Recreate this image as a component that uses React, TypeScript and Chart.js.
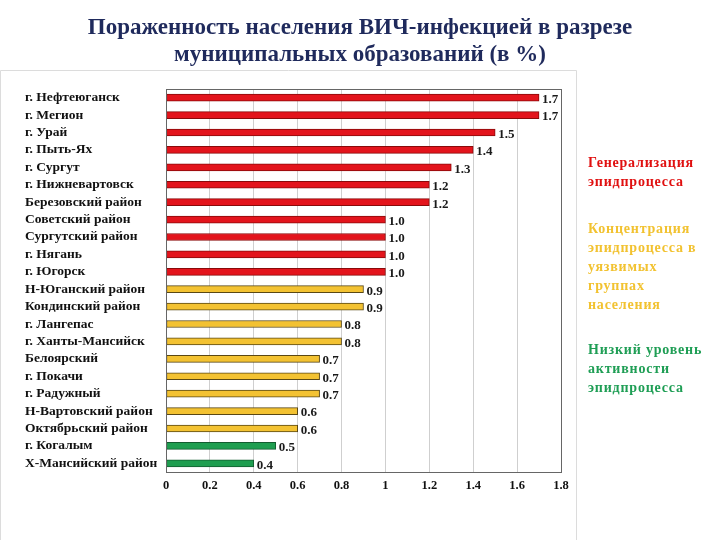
import React, { useEffect, useRef } from "react";
import { Chart, registerables } from "chart.js";

Chart.register(...registerables);

const titleLines = [
  "Пораженность населения ВИЧ-инфекцией в разрезе",
  "муниципальных образований (в %)",
];

const categories = [
  "г. Нефтеюганск",
  "г. Мегион",
  "г. Урай",
  "г. Пыть-Ях",
  "г. Сургут",
  "г. Нижневартовск",
  "Березовский район",
  "Советский район",
  "Сургутский район",
  "г. Нягань",
  "г. Югорск",
  "Н-Юганский район",
  "Кондинский район",
  "г. Лангепас",
  "г. Ханты-Мансийск",
  "Белоярский",
  "г. Покачи",
  "г. Радужный",
  "Н-Вартовский район",
  "Октябрьский район",
  "г. Когалым",
  "Х-Мансийский район",
];

const values = [1.7, 1.7, 1.5, 1.4, 1.3, 1.2, 1.2, 1.0, 1.0, 1.0, 1.0, 0.9, 0.9, 0.8, 0.8, 0.7, 0.7, 0.7, 0.6, 0.6, 0.5, 0.4];

// level: 0 = generalization (red), 1 = concentration (yellow), 2 = low (green)
const levels = [0, 0, 0, 0, 0, 0, 0, 0, 0, 0, 0, 1, 1, 1, 1, 1, 1, 1, 1, 1, 2, 2];

const fillColors = ["#e3141c", "#f3c232", "#1f9e50"];
const borderColors = ["#8a0a0a", "#5a4814", "#145c30"];
const textColors = ["#e01010", "#f2c230", "#1f9e55"];

const legendGroups = [
  ["Генерализация", "эпидпроцесса"],
  ["Концентрация", "эпидпроцесса в", "уязвимых", "группах", "населения"],
  ["Низкий уровень", "активности", "эпидпроцесса"],
];
const legendTops = [163, 229, 350];

const FONT = "'Liberation Serif', 'Times New Roman', serif";

const decorPlugin = {
  id: "decor",
  beforeDraw(chart: any) {
    const ctx = chart.ctx;
    ctx.save();
    ctx.fillStyle = "#ffffff";
    ctx.fillRect(0, 0, chart.width, chart.height);
    ctx.strokeStyle = "#dcdcdc";
    ctx.lineWidth = 1;
    ctx.beginPath();
    ctx.moveTo(0.5, 540);
    ctx.lineTo(0.5, 70.5);
    ctx.lineTo(576.5, 70.5);
    ctx.lineTo(576.5, 540);
    ctx.stroke();
    // title
    ctx.fillStyle = "#1f2a5c";
    ctx.font = `bold 23px ${FONT}`;
    ctx.textAlign = "center";
    ctx.textBaseline = "middle";
    ctx.fillText(titleLines[0], 360, 28);
    ctx.fillText(titleLines[1], 360, 55);
    // legend texts
    ctx.font = `bold 14px ${FONT}`;
    ctx.textAlign = "left";
    try {
      ctx.letterSpacing = "0.8px";
    } catch (e) {}
    legendGroups.forEach((lines, gi) => {
      ctx.fillStyle = textColors[gi];
      lines.forEach((l, li) => {
        ctx.fillText(l, 588, legendTops[gi] + li * 19.2);
      });
    });
    ctx.restore();
  },
  afterDatasetsDraw(chart: any) {
    const ctx = chart.ctx;
    const area = chart.chartArea;
    ctx.save();
    ctx.strokeStyle = "#666666";
    ctx.lineWidth = 1;
    ctx.strokeRect(Math.round(area.left) + 0.5, Math.round(area.top) + 0.5, Math.round(area.right - area.left), Math.round(area.bottom - area.top));
    const meta = chart.getDatasetMeta(0);
    ctx.fillStyle = "#1a1a1a";
    ctx.font = `bold 13px ${FONT}`;
    ctx.textAlign = "left";
    ctx.textBaseline = "middle";
    meta.data.forEach((bar: any, i: number) => {
      ctx.fillText(values[i].toFixed(1), bar.x + 3, bar.y + 2);
    });
    ctx.restore();
  },
};

export default function App() {
  const ref = useRef<HTMLCanvasElement | null>(null);
  useEffect(() => {
    if (!ref.current) return;
    const chart = new Chart(ref.current, {
      type: "bar",
      data: {
        labels: categories,
        datasets: [
          {
            data: values,
            backgroundColor: levels.map((l) => fillColors[l]),
            borderColor: levels.map((l) => borderColors[l]),
            borderWidth: 1,
            borderSkipped: false,
            barThickness: 7,
          },
        ],
      },
      options: {
        indexAxis: "y",
        animation: false,
        responsive: false,
        maintainAspectRatio: false,
        layout: { padding: { top: 89, left: 25, right: 159, bottom: 0 } },
        plugins: {
          legend: { display: false },
          tooltip: { enabled: false },
          title: { display: false },
        },
        scales: {
          x: {
            min: 0,
            max: 1.8,
            afterFit: (s: any) => {
              s.height = 68;
            },
            ticks: {
              stepSize: 0.2,
              color: "#111",
              font: { family: FONT, size: 12.5, weight: "bold" },
              padding: 6,
              callback: (v: any) => String(Math.round(Number(v) * 10) / 10),
            },
            grid: { color: "#cfcfcf", drawTicks: false },
            border: { color: "#666" },
          },
          y: {
            afterFit: (s: any) => {
              s.width = 141;
            },
            ticks: {
              crossAlign: "far",
              color: "#111",
              font: { family: FONT, size: 13.5, weight: "bold" },
              autoSkip: false,
            },
            grid: { display: false, drawTicks: false },
            border: { color: "#333" },
          },
        },
      },
      plugins: [decorPlugin],
    } as any);
    return () => chart.destroy();
  }, []);
  return (
    <div style={{ position: "absolute", left: 0, top: 0, width: 720, height: 540 }}>
      <canvas ref={ref} width={720} height={540} style={{ display: "block" }} />
    </div>
  );
}
